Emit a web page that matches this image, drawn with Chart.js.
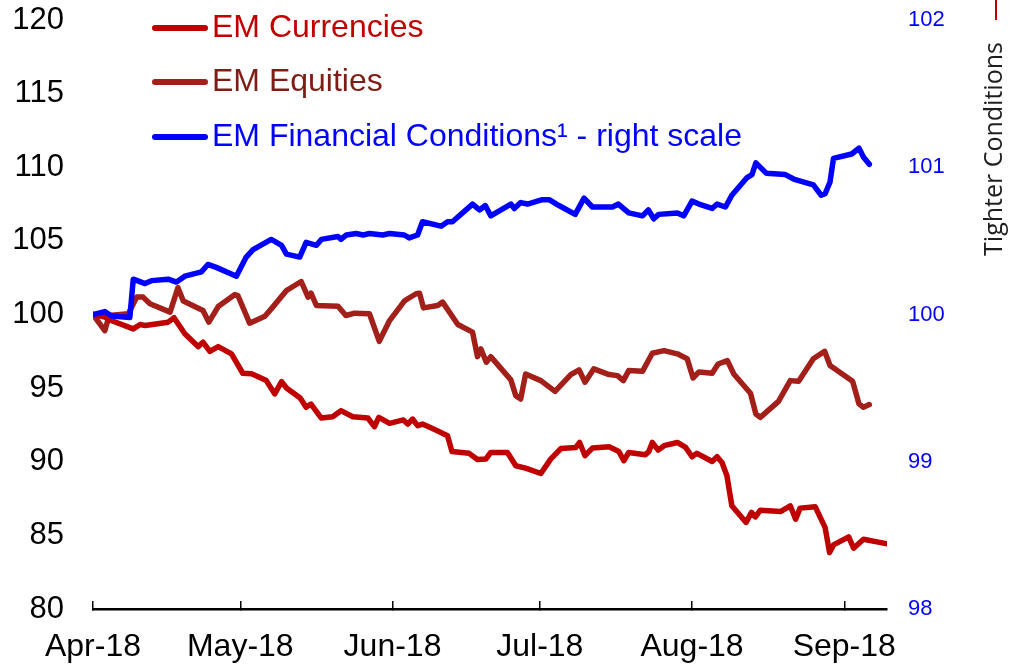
<!DOCTYPE html>
<html>
<head>
<meta charset="utf-8">
<script src="https://cdn.jsdelivr.net/npm/chart.js@4.4.1/dist/chart.umd.min.js"></script>
<style>
  html, body { margin: 0; padding: 0; background: #ffffff; }
  #wrap { width: 1010px; height: 667px; position: relative; }
</style>
</head>
<body>
<div id="wrap"><canvas id="c" width="1010" height="667"></canvas></div>
<script>
// ---- Data (x = days since 1 Apr 2018) ----
const tickDays = [0, 30, 61, 91, 122, 153];
const tickLabels = ['Apr-18', 'May-18', 'Jun-18', 'Jul-18', 'Aug-18', 'Sep-18'];

const currDays = [0,2.4,4.1,8.2,9.6,10.6,15.3,16.5,18.7,21.4,22.4,23.8,25.5,28.2,30.5,32.3,35.3,37,38.4,39.4,42.2,43.4,44.4,46.5,48.8,50.5,52.9,56,57.3,58.2,60.4,63.2,64.1,65.1,66.1,67.1,69.8,72.2,73.1,76.6,78.3,80,81,84.4,86.1,88.1,91.2,93.2,95.3,98.3,99.1,100.2,101.7,105.1,107.1,108.1,109.1,112.5,113.2,113.9,115.1,116.3,119,120.7,122,123,126.1,127.1,128.1,129.1,130.1,133,134.1,134.9,135.9,140,142,143.1,144,147.1,149.1,150,150.8,153.9,154.9,156.9,161.5];
const currValues = [100,99.82,99.54,99.02,99.32,99.25,99.48,99.78,98.69,97.82,98.12,97.5,97.82,97.33,96.01,95.97,95.51,94.61,95.44,95.01,94.33,93.7,93.92,92.97,93.06,93.47,93.06,92.97,92.38,93.01,92.61,92.84,92.56,92.9,92.45,92.56,92.15,91.77,90.7,90.57,90.15,90.18,90.63,90.63,89.73,89.57,89.2,90.18,90.9,90.97,91.31,90.41,90.93,91.02,90.7,90.07,90.63,90.48,90.7,91.31,90.79,91.09,91.31,90.97,90.34,90.57,90.02,90.34,89.95,89.05,87.01,85.88,86.56,86.26,86.71,86.62,87.01,86.1,86.85,86.94,85.53,83.83,84.35,84.9,84.13,84.74,84.44];

const eqDays = [0,2.4,3.3,7.2,8.9,10.2,11.6,15.7,17.3,18.4,22.4,23.6,25.5,28.9,29.5,31.9,35,36.6,39.4,42.4,43.8,44.4,45.5,49.9,51.5,53.3,56.3,58.3,60.4,63.4,64.1,65.8,66.5,67.3,70.2,71.2,74.3,77.3,78.3,79,80.1,81,85.1,86.1,87.1,88.1,91.2,94.1,97.3,99,100.2,102,105.1,106.8,108,109.1,111.9,113.9,116.3,119,121,122.2,123.4,126.1,127.3,129.2,130.5,133.9,135,135.9,139.6,142,143.7,146.7,149,150.1,154.7,156,156.9,158.1];
const eqValues = [100,98.9,99.93,100.05,101.18,101.18,100.73,100.16,101.82,100.91,100.27,99.48,100.54,101.36,101.29,99.41,99.88,100.5,101.63,102.24,101.18,101.45,100.61,100.56,99.93,100.09,100.05,98.18,99.59,100.91,101.07,101.41,101.45,100.45,100.61,100.84,99.32,98.8,97.14,97.66,96.76,97.14,95.56,94.49,94.26,95.96,95.51,94.78,95.92,96.24,95.4,96.31,95.92,95.85,95.51,96.19,96.14,97.37,97.55,97.33,97.0,95.69,96.1,96.01,96.64,96.87,95.96,94.65,93.24,93.01,94.1,95.51,95.46,96.99,97.5,96.53,95.46,93.93,93.7,93.88];

const fciDays = [0,2.4,3.8,7.5,8.2,10.6,11.9,15.3,17,18.7,22.1,23.4,25.1,29.2,31.2,32.6,36.3,38.4,39.4,42.1,43.4,45.5,46.5,49.9,50.5,51.6,53.6,55,56.3,59,60.4,63.4,64.4,66.1,67.1,70.9,72.2,73.2,77.3,78.7,79.9,81,85.1,85.8,87.1,88.5,91.5,92.9,94.9,98.2,100,101.7,105.8,107,109.1,111.9,113.1,114.2,115.2,119,120.3,122,123.4,126.1,127.1,128.8,130.1,133.2,134.2,135,137.1,141,142.7,146.7,148.3,149.1,150.1,150.8,154.5,156,156.9,158.1];
const fciValues = [100,100.02,99.99,99.98,100.24,100.21,100.23,100.24,100.22,100.26,100.29,100.34,100.32,100.26,100.39,100.44,100.51,100.47,100.41,100.39,100.49,100.47,100.51,100.53,100.51,100.54,100.55,100.54,100.55,100.54,100.55,100.54,100.52,100.54,100.63,100.6,100.63,100.63,100.75,100.71,100.74,100.67,100.75,100.72,100.76,100.75,100.78,100.78,100.74,100.68,100.79,100.73,100.73,100.75,100.69,100.67,100.71,100.65,100.68,100.69,100.67,100.77,100.75,100.72,100.75,100.73,100.81,100.93,100.95,101.03,100.96,100.95,100.92,100.88,100.81,100.82,100.9,101.06,101.09,101.13,101.07,101.02];

const seriesLabels = ['EM Currencies', 'EM Equities', 'EM Financial Conditions\u00B9 - right scale'];
const sideLabel = 'Tighter Conditions';

// ---- Styles ----
const RED = '#C00000', BROWN = '#A31F1A', BROWN_TEXT = '#7E1C16', BLUE = '#0000FF';
const FONT = "'Liberation Sans', Arial, sans-serif";

function pts(xs, ys) { return xs.map((x, i) => ({ x: x, y: ys[i] })); }

const legendPlugin = {
  id: 'customLegend',
  afterDraw(chart) {
    const ctx = chart.ctx;
    const items = [
      { label: seriesLabels[0], line: RED, text: RED, y: 28 },
      { label: seriesLabels[1], line: BROWN, text: BROWN_TEXT, y: 82 },
      { label: seriesLabels[2], line: BLUE, text: BLUE, y: 137 }
    ];
    ctx.save();
    items.forEach(it => {
      ctx.strokeStyle = it.line;
      ctx.lineWidth = 6;
      ctx.lineCap = 'round';
      ctx.beginPath();
      ctx.moveTo(155, it.y);
      ctx.lineTo(205, it.y);
      ctx.stroke();
      ctx.fillStyle = it.text;
      ctx.font = '32px ' + FONT;
      ctx.textAlign = 'left';
      ctx.textBaseline = 'middle';
      ctx.fillText(it.label, 212, it.y);
    });
    // side label and arrow stub
    ctx.strokeStyle = RED;
    ctx.lineWidth = 2;
    ctx.lineCap = 'butt';
    ctx.beginPath();
    ctx.moveTo(996, 0);
    ctx.lineTo(996, 20);
    ctx.stroke();
    ctx.translate(1002, 149);
    ctx.rotate(-Math.PI / 2);
    ctx.fillStyle = '#1e1e1e';
    ctx.font = "25px 'Open Sans', 'Noto Sans', sans-serif";
    ctx.textAlign = 'center';
    ctx.textBaseline = 'alphabetic';
    ctx.fillText(sideLabel, 0, 0);
    ctx.restore();
  }
};

new Chart(document.getElementById('c'), {
  type: 'line',
  data: {
    datasets: [
      { label: seriesLabels[0], data: pts(currDays, currValues), yAxisID: 'y', borderColor: RED, order: 1 },
      { label: seriesLabels[1], data: pts(eqDays, eqValues), yAxisID: 'y', borderColor: BROWN, order: 2 },
      { label: seriesLabels[2], data: pts(fciDays, fciValues), yAxisID: 'y2', borderColor: BLUE, order: 0 }
    ]
  },
  options: {
    responsive: false,
    animation: false,
    events: [],
    layout: { padding: { top: 20, left: 0, right: 0, bottom: 0 } },
    elements: {
      point: { radius: 0 },
      line: { borderWidth: 5.5, tension: 0, borderJoinStyle: 'round', borderCapStyle: 'round', fill: false }
    },
    plugins: { legend: { display: false }, tooltip: { enabled: false } },
    scales: {
      x: {
        type: 'linear',
        position: 'bottom',
        min: 0,
        max: 161.7,
        afterBuildTicks: s => { s.ticks = tickDays.map(v => ({ value: v })); },
        afterFit: s => { s.height = 58; },
        grid: { display: true, drawOnChartArea: false, drawTicks: true, tickLength: -8, color: '#000', lineWidth: 1.5 },
        border: { display: true, color: '#000', width: 2.5 },
        ticks: {
          autoSkip: false, maxRotation: 0, minRotation: 0, padding: 27,
          color: '#000', font: { family: FONT, size: 32 },
          callback: v => { const i = tickDays.indexOf(v); return i >= 0 ? tickLabels[i] : ''; }
        }
      },
      y: {
        position: 'left',
        min: 80, max: 120,
        afterBuildTicks: s => { const t = []; for (let v = 80; v <= 120; v += 5) t.push({ value: v }); s.ticks = t; },
        afterFit: s => { s.width = 93; s.paddingTop = 0; s.paddingBottom = 0; },
        grid: { display: false, drawTicks: false },
        border: { display: false },
        ticks: { padding: 29, color: '#000', font: { family: FONT, size: 31 } }
      },
      y2: {
        position: 'right',
        min: 98, max: 102,
        afterBuildTicks: s => { const t = []; for (let v = 98; v <= 102; v += 1) t.push({ value: v }); s.ticks = t; },
        afterFit: s => { s.width = 123; s.paddingTop = 0; s.paddingBottom = 0; },
        grid: { display: false, drawTicks: false },
        border: { display: false },
        ticks: { padding: 21, color: BLUE, font: { family: FONT, size: 22 } }
      }
    }
  },
  plugins: [legendPlugin]
});
</script>
</body>
</html>
